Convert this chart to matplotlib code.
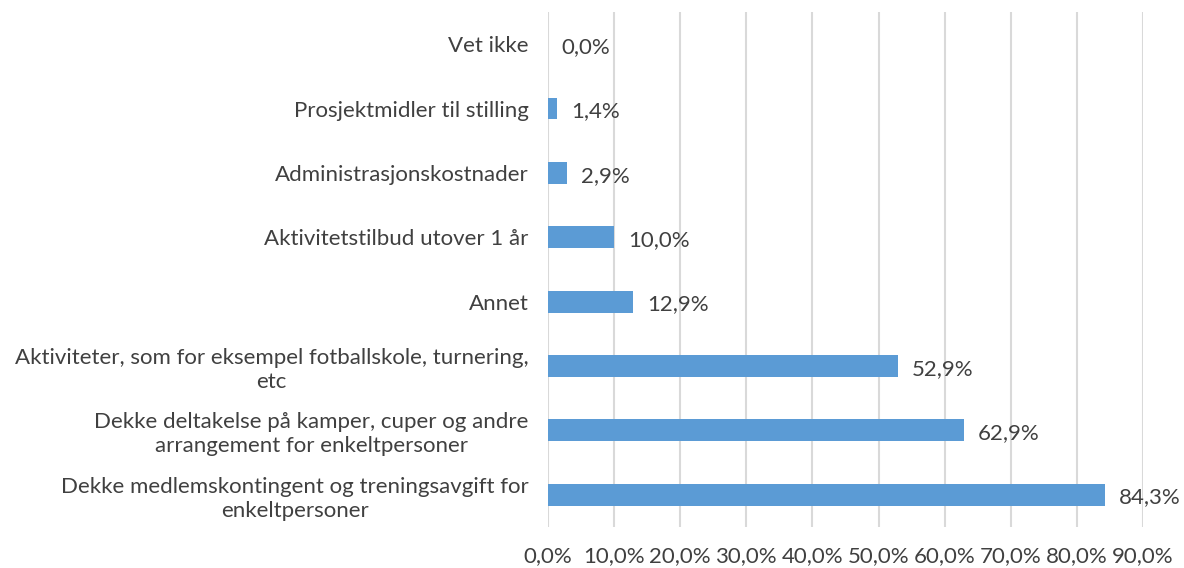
import matplotlib.pyplot as plt
from matplotlib.ticker import FuncFormatter

categories = [
    "Dekke medlemskontingent og treningsavgift for\nenkeltpersoner",
    "Dekke deltakelse på kamper, cuper og andre\narrangement for enkeltpersoner",
    "Aktiviteter, som for eksempel fotballskole, turnering,\netc",
    "Annet",
    "Aktivitetstilbud utover 1 år",
    "Administrasjonskostnader",
    "Prosjektmidler til stilling",
    "Vet ikke",
]
values = [84.3, 62.9, 52.9, 12.9, 10.0, 2.9, 1.4, 0.0]
xticks = [0, 10, 20, 30, 40, 50, 60, 70, 80, 90]

plt.rcParams['font.family'] = ['Lato', 'DejaVu Sans']
txt = '#404040'
fs = 16

fig = plt.figure(figsize=(11.84, 5.68), dpi=100)
ax = fig.add_axes([0.4628, 0.0722, 0.5026, 0.9067])

y = list(range(len(categories)))
ax.barh(y, values, height=0.34, color='#5B9BD5', zorder=3)

for yi, v in zip(y, values):
    ax.annotate(f"{v:.1f}%".replace('.', ','), (v, yi), xytext=(10, -2),
                textcoords='offset points', va='center', ha='left',
                fontsize=fs, color=txt)

ax.set_xlim(0, 90)
ax.set_ylim(-0.5, len(categories) - 0.5)
ax.set_xticks(xticks)
ax.xaxis.set_major_formatter(FuncFormatter(lambda v, p: f"{v:.1f}%".replace('.', ',')))
ax.set_yticks(y)
ax.set_yticklabels(categories, multialignment='center', linespacing=1.25)
ax.tick_params(axis='x', length=0, pad=14, labelsize=fs, labelcolor=txt)
ax.tick_params(axis='y', length=0, pad=14, labelsize=fs, labelcolor=txt)
ax.grid(axis='x', color='#d9d9d9', linewidth=1.5, zorder=0)
for s in ax.spines.values():
    s.set_visible(False)

fig.savefig('out.png', dpi=100)
